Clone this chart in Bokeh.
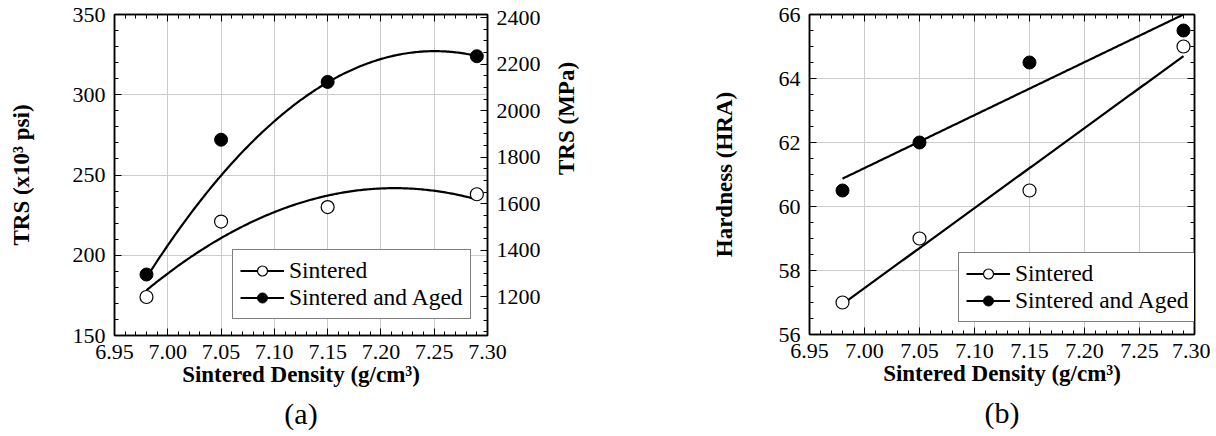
import math
import numpy as np
from bokeh.plotting import figure
from bokeh.models import (Range1d, LinearAxis, SingleIntervalTicker,
                          PrintfTickFormatter, CustomJSTickFormatter, Title)
from bokeh.layouts import row
from bokeh.embed import file_html
from bokeh.resources import INLINE

# ---------------- data ----------------
density = [6.98, 7.05, 7.15, 7.29]
trs_sintered = [174, 221, 230, 238]          # x10^3 psi
trs_aged = [188, 272, 308, 324]              # x10^3 psi
hra_sintered = [57.0, 59.0, 60.5, 65.0]
hra_aged = [60.5, 62.0, 64.5, 65.5]

# trend curves
trend_x = [6.98, 7.05, 7.10, 7.15, 7.20, 7.25, 7.29]
trs_sintered_trend = [178, 211, 227, 237, 241.5, 240, 235]
trs_aged_trend = [186, 250, 283, 308, 322, 327.5, 324]
hra_trend_x = [6.98, 7.29]
hra_sintered_trend = [56.95, 64.7]
hra_aged_trend = [60.87, 66.0]

series_names = ["Sintered", "Sintered and Aged"]
panel_labels = ["(a)", "(b)"]
KSI_TO_MPA = 6.894757

FONT = "Liberation Serif, Times New Roman, DejaVu Serif, serif"


def smooth(xv, yv, deg):
    xs = np.linspace(min(xv), max(xv), 200)
    return xs, np.polyval(np.polyfit(xv, yv, deg), xs)


def style_axis(ax, labels=True):
    ax.major_tick_in = 7
    ax.major_tick_out = 0
    ax.minor_tick_in = 4
    ax.minor_tick_out = 0
    ax.axis_line_color = "black"
    ax.axis_line_width = 1.5
    ax.major_tick_line_color = "black"
    ax.minor_tick_line_color = "black"
    ax.major_label_text_font = FONT
    ax.major_label_text_font_size = "22px"
    ax.major_label_text_color = "black"
    ax.axis_label_text_font = FONT
    ax.axis_label_text_font_style = "bold"
    ax.axis_label_text_font_size = "23px"
    ax.axis_label_text_color = "black"
    ax.major_label_standoff = 9
    if not labels:
        ax.formatter = CustomJSTickFormatter(code="return '';")
        ax.major_label_text_font_size = "0px"
        ax.major_label_standoff = 0


def make_panel(yvals_s, yvals_a, tx, trend_s, trend_a, deg, y_range,
               y_interval, y_minor, ylabel, ylabel_standoff, frame_w, frame_h,
               borders, legend_loc, panel_label):
    bl, br, bt, bb = borders
    p = figure(frame_width=frame_w, frame_height=frame_h,
               x_range=Range1d(6.9499999, 7.3000001), y_range=y_range,
               output_backend="svg", toolbar_location=None,
               min_border=0, min_border_left=bl, min_border_right=br,
               min_border_top=bt, min_border_bottom=bb)
    p.outline_line_color = "black"
    p.outline_line_width = 1.5
    p.background_fill_color = "white"
    p.border_fill_color = "white"

    p.xaxis.ticker = SingleIntervalTicker(interval=0.05, num_minor_ticks=5)
    p.yaxis.ticker = SingleIntervalTicker(interval=y_interval, num_minor_ticks=y_minor)
    p.xaxis.formatter = PrintfTickFormatter(format="%.2f")
    p.xaxis.axis_label = "Sintered Density (g/cm\u00b3)"
    p.yaxis.axis_label = ylabel
    style_axis(p.xaxis[0])
    style_axis(p.yaxis[0])
    p.xaxis.axis_label_standoff = 0
    p.yaxis.axis_label_standoff = ylabel_standoff

    p.xgrid.grid_line_color = "#cccccc"
    p.ygrid.grid_line_color = "#cccccc"
    p.xgrid.grid_line_width = 1
    p.ygrid.grid_line_width = 1

    top = LinearAxis(ticker=SingleIntervalTicker(interval=0.05, num_minor_ticks=5))
    style_axis(top, labels=False)
    p.add_layout(top, "above")

    xs, ys = smooth(tx, trend_s, deg)
    xa, ya = smooth(tx, trend_a, deg)
    p.line(xs, ys, line_color="black", line_width=2.2, legend_label=series_names[0])
    p.scatter(density, yvals_s, size=13, marker="circle", fill_color="white",
              line_color="black", line_width=1.2, legend_label=series_names[0])
    p.line(xa, ya, line_color="black", line_width=2.2, legend_label=series_names[1])
    p.scatter(density, yvals_a, size=13, marker="circle", fill_color="black",
              line_color="black", legend_label=series_names[1])

    lg = p.legend[0]
    lg.location = legend_loc
    lg.border_line_color = "black"
    lg.border_line_width = 1
    lg.background_fill_color = "white"
    lg.background_fill_alpha = 1
    lg.label_text_font = FONT
    lg.label_text_font_size = "23.5px"
    lg.label_text_color = "black"
    lg.glyph_width = 44
    lg.glyph_height = 25
    lg.label_height = 25
    lg.label_standoff = 5
    lg.padding = 7
    lg.spacing = 0
    lg.margin = 0

    p.add_layout(Title(text=panel_label, align="center", text_font=FONT,
                       text_font_size="30px", text_font_style="normal",
                       text_color="black", standoff=10), "below")
    return p


pa = make_panel(trs_sintered, trs_aged, trend_x, trs_sintered_trend,
                trs_aged_trend, 2, Range1d(150, 350), 50, 5,
                "TRS (x10\u00b3 psi)", 36, 373, 321, (114, 121, 14, 95),
                (118, 16), panel_labels[0])
pa.extra_y_ranges = {"mpa": Range1d(150 * KSI_TO_MPA, 350 * KSI_TO_MPA)}
right = LinearAxis(y_range_name="mpa",
                   ticker=SingleIntervalTicker(interval=200, num_minor_ticks=4),
                   axis_label="TRS (MPa)")
style_axis(right)
right.axis_label_standoff = 23
try:
    right.axis_label_orientation = math.pi / 2
except Exception:
    pass
pa.add_layout(right, "right")

pb = make_panel(hra_sintered, hra_aged, hra_trend_x, hra_sintered_trend,
                hra_aged_trend, 1, Range1d(56, 66), 2, 4,
                "Hardness (HRA)", 39, 385, 320, (201, 16, 14, 96), (149, 12),
                panel_labels[1])
rb = LinearAxis(ticker=SingleIntervalTicker(interval=2, num_minor_ticks=4))
style_axis(rb, labels=False)
pb.add_layout(rb, "right")

layout = row(pa, pb)
open("out.html", "w").write(file_html(layout, INLINE))
